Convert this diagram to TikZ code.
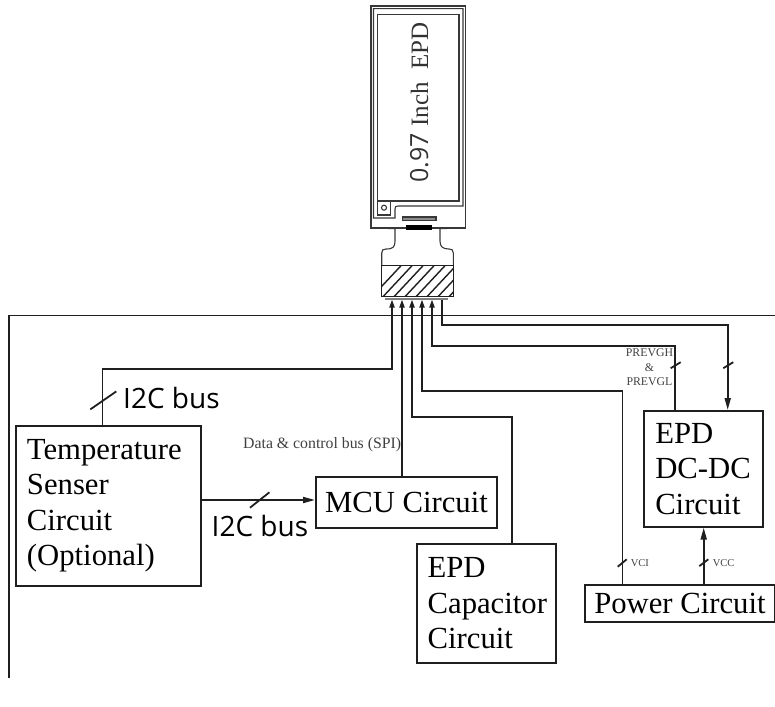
\documentclass[tikz,border=0pt]{standalone}
\usepackage{fontspec}
\setmainfont{Liberation Serif}
\newfontfamily\busfont{Open Sans}
\usetikzlibrary{arrows.meta}
\tikzset{
  wire/.style={line width=1.8pt,draw=black!88},
  smallarrow/.style={wire,-{Triangle[length=8pt,width=5pt]}},
  bigarrow/.style={wire,-{Triangle[length=12pt,width=6pt]}},
  blockbox/.style={draw=black!88,line width=1.9pt,inner sep=0pt,anchor=north west,font=\fontsize{30.7}{35.5}\selectfont},
  busslash/.style={line width=1.8pt,draw=black!88},
  panelline/.style={line width=1.1pt,draw=black!78},
  smalllabel/.style={text=black!75,inner sep=0pt},
  buslabel/.style={font=\busfont\fontsize{28}{32}\selectfont,inner sep=0pt,anchor=west},
}
\newcommand{\slashat}[4]{\draw[busslash] (#1-#3,#2+#4) -- (#1+#3,#2-#4);}
\begin{document}
\begin{tikzpicture}[x=1pt,y=-1pt]
\useasboundingbox (0,0) rectangle (775,706);
% panel
\draw[panelline,line width=1.3pt] (371,6) rectangle (465.7,228);
\draw[panelline] (373.5,8.7) -- (463,8.7) -- (463,206) -- (398,206) .. controls (395.5,206) and (395,207) .. (395,209) -- (395,218) -- (373.5,218) -- cycle;
\draw[panelline] (377.3,14.3) rectangle (459,201);
\draw[panelline] (377.3,201) -- (377.3,215) -- (390.7,215) -- (390.7,201);
\draw[panelline] (384,207.7) circle (2.5);
\draw[panelline,fill=black!45] (402.7,217) rectangle (436,220.7);
\fill[black] (406,225) rectangle (431.7,229.5);
\node[rotate=90,anchor=base,inner sep=0pt,text=black!80,font=\fontsize{25}{30}\selectfont] (paneltext) at (428,102.5) {{\busfont\fontsize{25}{30}\selectfont 0.97} Inch\ \ EPD};
% FPC
\draw[panelline] (388,228.5) -- (395,228.5) -- (395,241) .. controls (395,247) and (393,249) .. (386,249) .. controls (383,249) and (381.7,250) .. (381.7,253) -- (381.7,265.7);
\draw[panelline] (447,228.5) -- (440,228.5) -- (440,241) .. controls (440,247) and (443,249) .. (449,249) .. controls (452,249) and (453.3,250) .. (453.3,253) -- (453.3,265.7);
\begin{scope}
\clip (381.7,265.7) rectangle (453.3,296.7);
\foreach \k in {0,11,...,110} {
  \draw[line width=1.4pt,draw=black!88] (372+\k,296.7) -- (401+\k,265.7);
}
\end{scope}
\draw[line width=1.3pt,draw=black!88] (381.7,265.7) rectangle (453.3,296.7);
\draw[line width=1.2pt,draw=black!50] (385,299) -- (448,299);
% frame
\coordinate (frameR) at (775,315.5);
\coordinate (frameC) at (9.3,315.5);
\coordinate (frameB) at (9.3,678);
\draw[wire] (frameR) -- (frameC) -- (frameB);
% blocks
\node[blockbox,minimum width=185pt,minimum height=160pt,text width=185pt] (temp) at (15,425) {\hspace*{11pt}Temperature\\\hspace*{11pt}Senser\\\hspace*{11pt}Circuit\\\hspace*{11pt}(Optional)};
\node[blockbox,minimum width=181pt,minimum height=50.7pt,align=center] (mcu) at (315,476) {MCU Circuit};
\node[blockbox,minimum width=139.3pt,minimum height=118.4pt,text width=139.3pt] (cap) at (415.7,543.3) {\hspace*{11pt}EPD\\\hspace*{11pt}Capacitor\\\hspace*{11pt}Circuit};
\node[blockbox,minimum width=118.4pt,minimum height=115.7pt,text width=118.4pt] (dcdc) at (643.3,410) {\hspace*{11pt}EPD\\\hspace*{11pt}DC-DC\\\hspace*{11pt}Circuit};
\node[blockbox,minimum width=190pt,minimum height=37pt,align=center] (power) at (584,584) {Power Circuit};
\coordinate (p1) at (392,299.5);
\coordinate (p2) at (402,299.5);
\coordinate (p3) at (412,299.5);
\coordinate (p4) at (422,299.5);
\coordinate (p5) at (432,299.5);
\coordinate (p6) at (442.3,299.5);
% connectors
\draw[smallarrow] (temp.north west -| 102.5,0) -- (102.5,369.3) -- (392,369.3) -- (p1);
\draw[smallarrow] (mcu.north -| 402,0) -- (p2);
\draw[smallarrow] (cap.north -| 511.7,0) -- (511.7,416.7) -- (412,416.7) -- (p3);
\draw[smallarrow] (power.north -| 622.5,0) -- (622.5,391.3) -- (422,391.3) -- (p4);
\draw[smallarrow] (dcdc.north -| 675,0) -- (675,346.3) -- (432,346.3) -- (p5);
\draw[bigarrow] (p6) -- (442.3,325) -- (727.7,325) -- (dcdc.north -| 727.7,0);
\draw[bigarrow] (power.north -| 703.7,0) -- (dcdc.south -| 703.7,0);
\draw[bigarrow] (temp.east |- 0,500) -- (mcu.west |- 0,500);
% slashes
\slashat{103.3}{400.4}{13}{9}
\slashat{259.7}{500}{9.7}{7.7}
\slashat{675.7}{365.2}{5}{3}
\slashat{728.3}{365.2}{5}{3}
\slashat{622.2}{563}{4.5}{3.7}
\slashat{703.8}{562.7}{4.5}{3.4}
% labels
\node[buslabel] (bus1) at (123,398) {I2C bus};
\node[buslabel] (bus2) at (211.5,526) {I2C bus};
\node[smalllabel,anchor=west,font=\fontsize{15.8}{18}\selectfont] (spi) at (243,444.5) {Data \& control bus (SPI)};
\node[smalllabel,align=center,font=\fontsize{11.8}{14.5}\selectfont] (prev) at (649.5,367.5) {PREVGH\\\&\\PREVGL};
\node[smalllabel,anchor=west,font=\fontsize{10.5}{12}\selectfont] (vci) at (630.7,562.7) {VCI};
\node[smalllabel,anchor=west,font=\fontsize{10.5}{12}\selectfont] (vcc) at (712.7,562.7) {VCC};
\end{tikzpicture}
\end{document}
